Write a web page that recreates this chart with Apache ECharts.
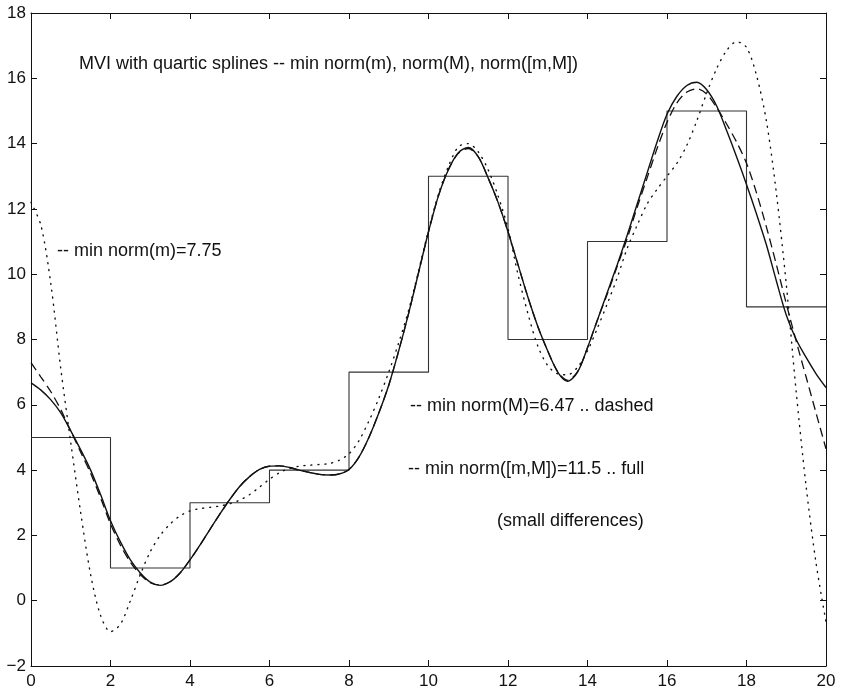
<!DOCTYPE html>
<html>
<head>
<meta charset="utf-8">
<script src="https://cdn.jsdelivr.net/npm/echarts@6/dist/echarts.min.js"></script>
<style>
  html, body { margin: 0; padding: 0; background: #fff; }
  #chart { width: 842px; height: 693px; }
</style>
</head>
<body>
<div id="chart"></div>
<script>
// cell means (step function), value holds on [x, x+2)
const stepX = [0, 2, 4, 6, 8, 10, 12, 14, 16, 18, 20]
const stepY = [5, 1, 3, 4, 7, 13, 8, 11, 15, 9, 9]

// spline samples, x every 0.25
const sampleX = [0, 0.25, 0.5, 0.75, 1, 1.25, 1.5, 1.75, 2, 2.25, 2.5, 2.75, 3, 3.25, 3.5, 3.75, 4, 4.25, 4.5, 4.75,
  5, 5.25, 5.5, 5.75, 6, 6.25, 6.5, 6.75, 7, 7.25, 7.5, 7.75, 8, 8.25, 8.5, 8.75, 9, 9.25, 9.5, 9.75,
  10, 10.25, 10.5, 10.75, 11, 11.25, 11.5, 11.75, 12, 12.25, 12.5, 12.75, 13, 13.25, 13.5, 13.75, 14, 14.25, 14.5, 14.75,
  15, 15.25, 15.5, 15.75, 16, 16.25, 16.5, 16.75, 17, 17.25, 17.5, 17.75, 18, 18.25, 18.5, 18.75, 19, 19.25, 19.5, 19.75, 20]

// min norm([m,M]) = 11.5 .. full
const fullY = [6.67, 6.45, 6.15, 5.75, 5.2, 4.62, 4.0, 3.25, 2.45, 1.8, 1.25, 0.85, 0.57, 0.47, 0.58, 0.85, 1.25, 1.7, 2.18, 2.65,
  3.1, 3.5, 3.8, 4.02, 4.12, 4.13, 4.08, 4.0, 3.93, 3.87, 3.85, 3.88, 4.02, 4.4, 5.0, 5.75, 6.6, 7.65, 8.8, 10.05,
  11.3, 12.4, 13.2, 13.72, 13.88, 13.6, 12.95, 12.2, 11.3, 10.3, 9.3, 8.4, 7.65, 7.0, 6.72, 7.0, 7.75, 8.6, 9.45, 10.3,
  11.2, 12.15, 13.1, 14.05, 14.9, 15.45, 15.78, 15.88, 15.65, 15.15, 14.4, 13.6, 12.75, 11.85, 10.9, 9.8, 8.75, 8.0, 7.45, 6.95, 6.53]

// min norm(M) = 6.47 .. dashed
const dashedY = [7.29, 6.85, 6.4, 5.85, 5.2, 4.55, 3.9, 3.15, 2.35, 1.7, 1.18, 0.8, 0.55, 0.48, 0.58, 0.85, 1.25, 1.7, 2.18, 2.65,
  3.1, 3.5, 3.8, 4.02, 4.12, 4.13, 4.08, 4.0, 3.93, 3.87, 3.85, 3.88, 4.02, 4.4, 5.0, 5.75, 6.6, 7.65, 8.8, 10.05,
  11.3, 12.4, 13.2, 13.7, 13.85, 13.6, 12.95, 12.2, 11.3, 10.3, 9.3, 8.4, 7.65, 7.02, 6.75, 7.02, 7.75, 8.6, 9.4, 10.25,
  11.1, 12.05, 12.95, 13.85, 14.65, 15.25, 15.58, 15.68, 15.52, 15.1, 14.6, 14.05, 13.4, 12.5, 11.45, 10.3, 9.1, 7.95, 6.85, 5.75, 4.65]

// min norm(m) = 7.75 .. dotted
const dottedY = [12.2, 11.5, 9.7, 7.1, 4.85, 2.7, 0.8, -0.45, -0.95, -0.72, 0.0, 0.8, 1.5, 2.0, 2.35, 2.6, 2.75, 2.82, 2.86, 2.9,
  2.97, 3.08, 3.25, 3.48, 3.72, 3.92, 4.05, 4.12, 4.15, 4.17, 4.2, 4.3, 4.5, 4.9, 5.5, 6.2, 7.0, 7.9, 8.9, 10.1,
  11.35, 12.45, 13.3, 13.9, 14.0, 13.75, 13.2, 12.4, 11.4, 10.0, 8.8, 7.8, 7.2, 6.95, 6.92, 7.15, 7.65, 8.35, 9.1, 9.9,
  10.8, 11.5, 12.15, 12.6, 13.0, 13.4, 13.95, 14.7, 15.55, 16.3, 16.85, 17.12, 16.95, 16.1, 14.7, 12.5, 9.7, 6.4, 3.5, 1.15, -0.65]

const xTicks = { min: 0, max: 20, interval: 2 }
const yTicks = { min: -2, max: 18, interval: 2 }

const zip = (xs, ys) => xs.map((x, i) => [x, ys[i]])

const FONT = '"Liberation Sans", Arial, Helvetica, sans-serif'
const INK = '#111'

const axisBase = {
  type: 'value',
  axisLine: { show: true, onZero: false, lineStyle: { color: INK, width: 1 } },
  axisTick: { show: true, inside: true, length: 6, lineStyle: { color: INK } },
  splitLine: { show: false },
  axisLabel: { color: INK, fontSize: 17, fontFamily: FONT },
}
const minus = v => (v < 0 ? '\u2212' + (-v) : String(v))

const myChart = echarts.init(document.getElementById('chart'))

const option = {
  animation: false,
  backgroundColor: '#fff',
  grid: { left: 31, right: 16, top: 13, bottom: 27 },
  xAxis: [
    { ...axisBase, ...xTicks, position: 'bottom', axisLabel: { ...axisBase.axisLabel, margin: 7 } },
    { ...axisBase, ...xTicks, position: 'top', axisLabel: { show: false } }
  ],
  yAxis: [
    { ...axisBase, ...yTicks, position: 'left', axisLabel: { ...axisBase.axisLabel, margin: 5, formatter: minus } },
    { ...axisBase, ...yTicks, position: 'right', axisLabel: { show: false } }
  ],
  series: [
    {
      name: 'cell means',
      type: 'line',
      step: 'end',
      symbol: 'none',
      data: zip(stepX, stepY),
      lineStyle: { color: '#333', width: 1.1 }
    },
    {
      name: 'min norm(m)',
      type: 'line',
      smooth: 0.3,
      symbol: 'none',
      data: zip(sampleX, dottedY),
      lineStyle: { color: INK, width: 1.4, type: [1, 6], cap: 'round' }
    },
    {
      name: 'min norm(M)',
      type: 'line',
      smooth: 0.3,
      symbol: 'none',
      data: zip(sampleX, dashedY),
      lineStyle: { color: INK, width: 1.3, type: [9, 5] }
    },
    {
      name: 'min norm([m,M])',
      type: 'line',
      smooth: 0.3,
      symbol: 'none',
      data: zip(sampleX, fullY),
      lineStyle: { color: INK, width: 1.4 }
    }
  ],
  graphic: [
    { type: 'text', x: 79, y: 64, style: { text: 'MVI with quartic splines -- min norm(m), norm(M), norm([m,M])', fontSize: 18, fontFamily: FONT, fill: INK, verticalAlign: 'middle' } },
    { type: 'text', x: 57, y: 251, style: { text: '-- min norm(m)=7.75', fontSize: 18, fontFamily: FONT, fill: INK, verticalAlign: 'middle' } },
    { type: 'text', x: 410, y: 406, style: { text: '-- min norm(M)=6.47 .. dashed', fontSize: 18, fontFamily: FONT, fill: INK, verticalAlign: 'middle' } },
    { type: 'text', x: 408, y: 469, style: { text: '-- min norm([m,M])=11.5 .. full', fontSize: 18, fontFamily: FONT, fill: INK, verticalAlign: 'middle' } },
    { type: 'text', x: 497, y: 521, style: { text: '(small differences)', fontSize: 18, fontFamily: FONT, fill: INK, verticalAlign: 'middle' } }
  ]
}

myChart.setOption(option)
</script>
</body>
</html>
